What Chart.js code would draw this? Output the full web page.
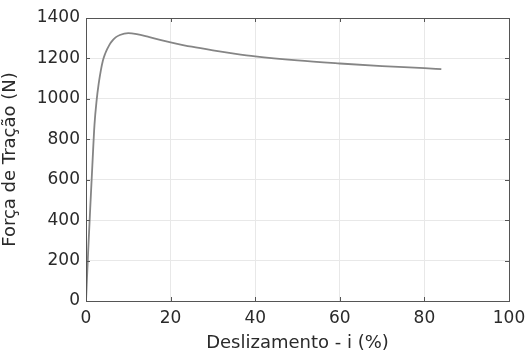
<!DOCTYPE html>
<html><head><meta charset="utf-8">
<script src="https://cdn.jsdelivr.net/npm/chart.js@4/dist/chart.umd.min.js"></script>
<style>html,body{margin:0;padding:0;background:#fff}#wrap{width:528px;height:354px}</style>
</head><body><div id="wrap"><canvas id="c" width="528" height="354"></canvas></div>
<script>
const slip = [0, 0.5, 1.0, 1.5, 2, 2.5, 3, 3.5, 4, 4.5, 5, 5.5, 6, 7, 8, 10, 12, 15, 17.5, 20, 25, 30, 35, 40, 50, 60, 70, 80, 84];
const force = [0, 240, 460, 670, 870, 990, 1075, 1140, 1190, 1222, 1246, 1266, 1282, 1304, 1316, 1325, 1320, 1305, 1292, 1280, 1258, 1240, 1224, 1210, 1190, 1175, 1162, 1152, 1147];
const xTicks = [0, 20, 40, 60, 80, 100];
const yTicks = [0, 200, 400, 600, 800, 1000, 1200, 1400];
const xTitle = 'Deslizamento - i (%)';
const yTitle = 'Força de Tração (N)';

const FONT = 'DejaVu Sans';
const boxPlugin = {
  id: 'box',
  afterDraw(chart) {
    const {ctx, chartArea: a, scales} = chart;
    ctx.save();
    ctx.strokeStyle = '#555';
    ctx.lineWidth = 1;
    ctx.strokeRect(Math.round(a.left) + 0.5, Math.round(a.top) + 0.5, Math.round(a.right - a.left), Math.round(a.bottom - a.top));
    ctx.beginPath();
    const L = 4;
    for (const v of xTicks) {
      const x = Math.round(scales.x.getPixelForValue(v)) + 0.5;
      ctx.moveTo(x, a.bottom); ctx.lineTo(x, a.bottom - L);
      ctx.moveTo(x, a.top); ctx.lineTo(x, a.top + L);
    }
    for (const v of yTicks) {
      const y = Math.round(scales.y.getPixelForValue(v)) + 0.5;
      ctx.moveTo(a.left, y); ctx.lineTo(a.left + L, y);
      ctx.moveTo(a.right, y); ctx.lineTo(a.right - L, y);
    }
    ctx.stroke();
    ctx.restore();
  }
};

new Chart(document.getElementById('c'), {
  type: 'line',
  data: {
    datasets: [{
      data: slip.map((s, i) => ({x: s, y: force[i]})),
      borderColor: '#858585',
      borderWidth: 1.8,
      pointRadius: 0,
      cubicInterpolationMode: 'monotone',
      fill: false
    }]
  },
  options: {
    responsive: false,
    animation: false,
    layout: {padding: {top: 18, right: 19, left: 0, bottom: 0}},
    plugins: {legend: {display: false}, tooltip: {enabled: false}},
    scales: {
      x: {
        type: 'linear', min: 0, max: 100,
        afterBuildTicks: s => { s.ticks = xTicks.map(v => ({value: v})); },
        afterFit: s => { s.height = 53; s.paddingRight = 0; s.paddingLeft = 0; },
        grid: {color: '#e8e8e8', drawTicks: false},
        border: {display: false},
        ticks: {color: '#2a2a2a', font: {family: FONT, size: 17}, padding: 7, maxRotation: 0, callback: v => String(v)},
        title: {display: true, text: xTitle, color: '#2a2a2a', font: {family: FONT, size: 18}, padding: {top: -1, bottom: 0}}
      },
      y: {
        min: 0, max: 1400,
        afterBuildTicks: s => { s.ticks = yTicks.map(v => ({value: v})); },
        afterFit: s => { s.width = 86; s.paddingTop = 0; s.paddingBottom = 0; },
        grid: {color: '#e8e8e8', drawTicks: false},
        border: {display: false},
        ticks: {color: '#2a2a2a', font: {family: FONT, size: 17}, padding: 6, callback: v => String(v)},
        title: {display: true, text: yTitle, color: '#2a2a2a', font: {family: FONT, size: 18}, padding: {top: 0, bottom: 0}}
      }
    }
  },
  plugins: [boxPlugin]
});
</script></body></html>
